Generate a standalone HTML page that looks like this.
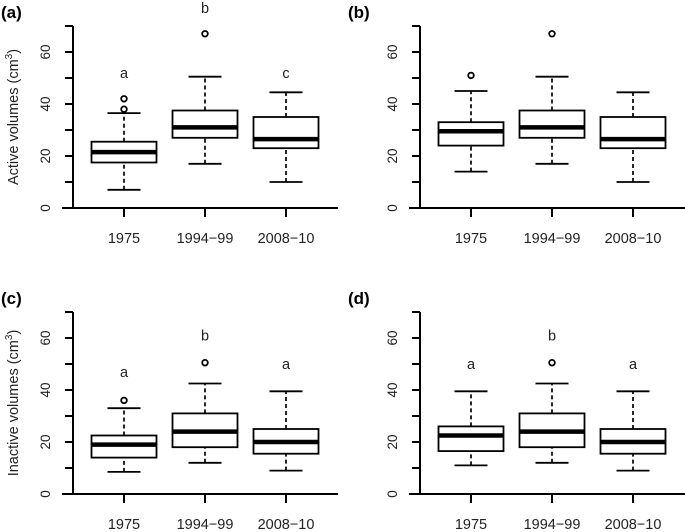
<!DOCTYPE html>
<html><head><meta charset="utf-8"><style>
html,body{margin:0;padding:0;background:#fff;}
svg{display:block;font-family:"Liberation Sans",Arial,sans-serif;}
</style></head><body>
<svg id="chart" width="685" height="532" viewBox="0 0 685 532" xmlns="http://www.w3.org/2000/svg"></svg>
<script>
const categories = ["1975","1994\u221299","2008\u221210"];
const yTicks = [0,10,20,30,40,50,60,70];
const yTickLabels = ["0","","20","","40","","60",""];
// each row: [lowWhisker, q1, median, q3, highWhisker]
const statsA = [[7,17.5,21.5,25.5,36.5],[17,27,31,37.5,50.5],[10,23,26.5,35,44.5]];
const outliersA = [[38,42],[67],[]];
const lettersA = ["a","b","c"];
const letterPosA = [52,77,52];
const statsB = [[14,24,29.5,33,45],[17,27,31,37.5,50.5],[10,23,26.5,35,44.5]];
const outliersB = [[51],[67],[]];
const lettersB = ["","",""];
const letterPosB = [0,0,0];
const statsC = [[8.5,14,19,22.5,33],[12,18,24,31,42.5],[9,15.5,20,25,39.5]];
const outliersC = [[36],[50.5],[]];
const lettersC = ["a","b","a"];
const letterPosC = [47,61,50];
const statsD = [[11,16.5,22.5,26,39.5],[12,18,24,31,42.5],[9,15.5,20,25,39.5]];
const outliersD = [[],[50.5],[]];
const lettersD = ["a","b","a"];
const letterPosD = [50,61,50];

const NS="http://www.w3.org/2000/svg";
const svg=document.getElementById('chart');
function mk(tag,attrs,parent){const e=document.createElementNS(NS,tag);for(const k in attrs)e.setAttribute(k,attrs[k]);(parent||svg).appendChild(e);return e;}

function panel(ox,oy,tag,title,stats,outs,letters,letterPos){
  const g=mk('g',{});
  
  
  const axisX=73+ox, y0=208+oy, ppu=2.6;
  const y=v=>y0-v*ppu;
  const x=i=>124+ox+i*81;
  const lab=mk('text',{x:1+ox,y:18+oy,'font-size':17,'font-weight':'bold'},g);
  lab.textContent='('+tag+')';
  
  
  const ya=mk('line',{x1:axisX,y1:y(0),x2:axisX,y2:y(70),stroke:'#000','stroke-width':2},g);
  
  
  yTicks.forEach((t,i)=>{
    mk('line',{x1:axisX-8,y1:y(t),x2:axisX,y2:y(t),stroke:'#000','stroke-width':2},g);
    if(yTickLabels[i]){
      const tx=mk('text',{x:0,y:0,'font-size':13.5,'text-anchor':'middle',fill:'#222',transform:`translate(${axisX-23},${y(t)}) rotate(-90)`},g);
      tx.textContent=yTickLabels[i];
      
      
    }
  });
  if(title){
    const tt=mk('text',{x:0,y:0,'font-size':14.5,'text-anchor':'middle',fill:'#222',transform:`translate(${18+ox},${y(35)}) rotate(-90)`},g);
    tt.innerHTML=title+' (cm<tspan dy="-6" font-size="10">3</tspan><tspan dy="6">)</tspan>';
    
    
  }
  const xa=mk('line',{x1:62+ox,y1:y0,x2:338+ox,y2:y0,stroke:'#000','stroke-width':2},g);
  
  
  categories.forEach((c,i)=>{
    mk('line',{x1:x(i),y1:y0,x2:x(i),y2:y0+9,stroke:'#000','stroke-width':2},g);
    const tx=mk('text',{x:x(i),y:y0+35,'font-size':14.5,'text-anchor':'middle',fill:'#222'},g);
    tx.textContent=c;
    
    
    const s=stats[i], cx=x(i), hw=32.5, cw=16.5;
    const bg=mk('g',{},g);
    
    
    mk('line',{x1:cx,y1:y(s[0]),x2:cx,y2:y(s[1]),stroke:'#000','stroke-width':1.7,'stroke-dasharray':'4,3'},bg);
    mk('line',{x1:cx,y1:y(s[3]),x2:cx,y2:y(s[4]),stroke:'#000','stroke-width':1.7,'stroke-dasharray':'4,3'},bg);
    mk('line',{x1:cx-cw,y1:y(s[0]),x2:cx+cw,y2:y(s[0]),stroke:'#000','stroke-width':1.8},bg);
    mk('line',{x1:cx-cw,y1:y(s[4]),x2:cx+cw,y2:y(s[4]),stroke:'#000','stroke-width':1.8},bg);
    mk('rect',{x:cx-hw,y:y(s[3]),width:2*hw,height:y(s[1])-y(s[3]),fill:'#fff',stroke:'#000','stroke-width':1.8},bg);
    mk('line',{x1:cx-hw,y1:y(s[2]),x2:cx+hw,y2:y(s[2]),stroke:'#000','stroke-width':4.5},bg);
    outs[i].forEach(o=>{
      const ci=mk('circle',{cx:cx,cy:y(o),r:2.8,fill:'none',stroke:'#000','stroke-width':1.8},bg);
      
      
    });
    if(letters[i]){
      const lt=mk('text',{x:cx,y:y(letterPos[i])+5,'font-size':14.5,'text-anchor':'middle',fill:'#222'},g);
      lt.textContent=letters[i];
      
      
    }
  });
}
panel(0,0,'a','Active volumes',statsA,outliersA,lettersA,letterPosA);
panel(347,0,'b','',statsB,outliersB,lettersB,letterPosB);
panel(0,286,'c','Inactive volumes',statsC,outliersC,lettersC,letterPosC);
panel(347,286,'d','',statsD,outliersD,lettersD,letterPosD);
</script>
</body></html>
